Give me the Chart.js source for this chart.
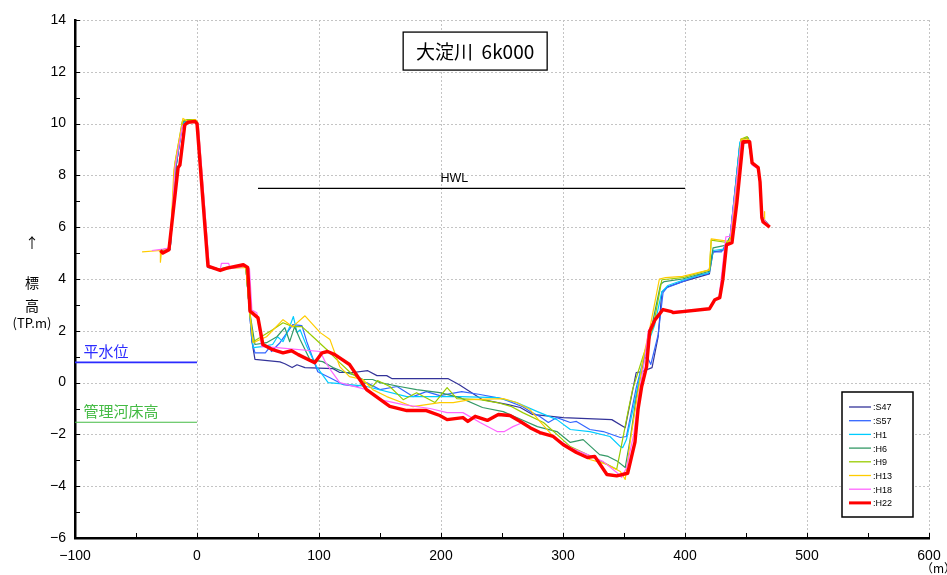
<!DOCTYPE html>
<html>
<head>
<meta charset="utf-8">
<script src="https://cdn.jsdelivr.net/npm/chart.js@4/dist/chart.umd.min.js"></script>
<style>
  html, body { margin: 0; padding: 0; background: #fff; }
  #wrap { width: 947px; height: 575px; }
</style>
</head>
<body>
<div id="wrap"><canvas id="chart" width="947" height="575"></canvas></div>
<script>
// cross section survey lines, [distance m, height TP.m]
var names = [":S47", ":S57", ":H1", ":H6", ":H9", ":H13", ":H18", ":H22"];
var colors = ["#333399", "#3366ff", "#00ccff", "#339966", "#99cc00", "#ffcc00", "#ff66ff", "#ff0000"];

var s47 = [[-30,5.1],[-22,5.15],[-20,6.5],[-17,8.4],[-12,10.0],[-8,10.1],[-2,10.1],[0,10.05],[9,4.5],[18,4.35],[25,4.4],[40,4.5],[43,2.8],[45,1.6],[47.5,0.9],[68,0.8],[72,0.73],[78,0.58],[82,0.69],[88.5,0.58],[111.5,0.54],[117,0.39],[128,0.39],[140,0.46],[147.5,0.27],[155.5,0.27],[160,0.15],[206,0.15],[215,-0.08],[234,-0.66],[255,-0.85],[265,-0.96],[275,-1.23],[300,-1.35],[340,-1.43],[351,-1.74],[360,0.39],[364.5,0.42],[373,0.58],[378,1.77],[381,3.5],[386,3.7],[398,3.9],[420,4.2],[423,5.05],[431,5.1],[437,5.6],[445,9.2],[453,9.3],[455,8.5],[460,8.3],[461.5,7.7],[463,6.4],[469,6.05]];
var s57 = [[-30,5.1],[-22,5.15],[-17,8.4],[-12,10.0],[-8,10.1],[-2,10.1],[0,10.05],[9,4.45],[18,4.35],[25,4.42],[40,4.5],[43,2.8],[45,1.6],[47.5,1.15],[56,1.15],[60,1.39],[61,1.2],[68,1.54],[78.5,2.24],[86,2.2],[90,1.58],[99,0.42],[109,0.19],[120,-0.08],[131,-0.15],[139,0],[150,-0.27],[164,-0.15],[177,-0.54],[188,-0.35],[199,-0.5],[217,-0.35],[232,-0.46],[250,-0.62],[267,-0.93],[273,-1.12],[281,-1.31],[288,-1.54],[295,-1.35],[306,-1.54],[311,-1.5],[322,-1.81],[333,-1.89],[347,-2.12],[352,-2.08],[360,-0.2],[366,0.9],[369,1.0],[372,0.7],[378,1.85],[382,3.47],[385,3.66],[398,3.9],[412,4.16],[419,4.2],[423,5.05],[430,5.05],[437,5.63],[445,9.25],[453,9.3],[455,8.5],[460,8.3],[461.5,7.7],[463,6.4],[469,6.05]];
var h1 = [[-30,5.1],[-22,5.15],[-17,8.4],[-12,10.0],[-8,10.1],[-2,10.1],[0,10.05],[9,4.45],[18,4.35],[25,4.42],[40,4.5],[43,2.8],[46,1.35],[53,1.39],[62,1.47],[66,1.77],[70.5,1.58],[76,2.16],[79,2.55],[82,1.93],[84.5,2.04],[90,1.39],[98,0.62],[107.5,0],[117,-0.04],[133.5,-0.12],[139,-0.15],[172,-0.54],[215.5,-0.54],[246,-0.58],[262,-0.77],[279,-1.12],[295,-1.43],[306,-1.81],[322,-1.89],[338.5,-2.08],[347,-2.47],[349,-2.51],[352,-2.2],[358,-0.9],[364,0.5],[368,1.3],[375,2.2],[381,3.5],[386,3.75],[398,3.95],[420,4.25],[423,5.1],[432,5.15],[437,5.6],[445,9.3],[453,9.35],[455,8.5],[460,8.3],[461.5,7.7],[463,6.4],[469,6.05]];
var h6 = [[-30,5.1],[-22,5.2],[-17,8.45],[-12,10.05],[-8,10.15],[-2,10.1],[0,10.05],[9,4.5],[18,4.38],[25,4.45],[40,4.5],[43,2.8],[47.5,1.47],[57,1.54],[65.5,1.77],[72,2.12],[76,1.58],[80,2.16],[84.5,1.66],[92.5,0.89],[103,0.81],[111.5,0.58],[120,0.42],[128,0.31],[136,0.12],[144,0.12],[150,0],[166,-0.15],[180,-0.27],[199,-0.39],[215.5,-0.58],[234,-0.96],[251,-1.12],[262,-1.35],[279,-1.7],[295,-1.89],[306,-2.31],[316.5,-2.2],[330,-2.78],[337,-2.85],[345,-3.05],[351,-3.28],[355,-2.2],[360,-0.6],[366,0.8],[372,2.0],[380,3.8],[383,3.9],[398,4.0],[420,4.3],[423,5.2],[433,5.3],[437,5.6],[446,9.4],[452,9.45],[455,8.5],[460,8.3],[461.5,7.7],[463,6.4],[469,6.05]];
var h9 = [[-30,5.1],[-22,5.2],[-18,8.5],[-12,10.1],[-8,10.15],[-2,10.15],[0,10.05],[9,4.5],[18,4.38],[25,4.45],[40,4.5],[43,2.8],[46,1.58],[62,2.04],[70.5,2.31],[78.5,2.16],[86,2.16],[95,1.77],[106.5,1.27],[117,0.77],[125,0.42],[136,0.04],[144,-0.15],[148,0.08],[158,-0.15],[169,-0.66],[180,-0.39],[195,-0.77],[205,-0.19],[213,-0.62],[232,-0.66],[246,-0.77],[258,-0.93],[267,-1.16],[284,-1.54],[295,-2.0],[306,-2.47],[320,-2.78],[333,-3.08],[344,-3.35],[348,-2.4],[353,-1.2],[357,-0.27],[365.5,1.0],[374,2.16],[381,3.97],[387,4.0],[398,4.05],[420,4.35],[421.5,5.5],[436,5.4],[438,5.7],[446,9.4],[451,9.5],[455,8.5],[460,8.3],[461.5,7.7],[463,6.4],[469,6.05]];
var h13 = [[-45,5.05],[-30,5.1],[-30,4.65],[-29,5.1],[-22,5.2],[-19,8.2],[-11.5,10.2],[-8,10.1],[-1,10.15],[1,10.0],[10,4.45],[18,4.35],[25,4.4],[40,4.45],[43,2.8],[46,1.54],[57,1.77],[70.5,2.43],[78.5,2.16],[88.5,2.58],[101,1.93],[109,1.66],[117,0.62],[125,0.23],[136,0.12],[144,-0.27],[155.5,-0.54],[177,-0.93],[199,-0.77],[210,-0.77],[224,-0.66],[251,-0.62],[262,-0.77],[273,-1.04],[281,-1.5],[292,-2.08],[306,-2.58],[322,-2.97],[336,-3.16],[347,-3.43],[351,-3.74],[355,-2.3],[360,-0.8],[366,1.0],[372,2.3],[379,4.0],[384,4.05],[398,4.1],[420,4.35],[421.5,5.55],[436,5.45],[438,5.7],[446,9.4],[452,9.4],[455,8.5],[460,8.3],[461.5,7.7],[463,6.4],[465,6.3],[465,6.6],[465.5,6.2],[469,6.05]];
var h18 = [[-37,5.1],[-28,5.15],[-22,5.2],[-18,8.3],[-12,9.9],[-8,10.05],[-2,10.1],[1,10.0],[10,4.5],[19,4.35],[20,4.6],[26,4.6],[27,4.4],[40,4.5],[43,4.4],[45,2.8],[49,2.7],[53,1.39],[65.5,1.35],[101,1.2],[105,0.81],[110.5,0.42],[117,0],[139,-0.27],[150,-0.66],[169,-0.85],[191,-1.0],[205,-1.16],[218,-1.16],[232,-1.54],[246,-1.89],[252,-1.89],[259,-1.7],[267,-1.54],[279,-1.89],[292,-2.08],[306,-2.51],[320,-2.78],[333,-3.05],[344,-3.47],[348,-3.66],[352,-3.3],[358,-2.0],[362,-0.5],[367,0.9],[370,2.0],[376,2.5],[382,2.8],[390,2.75],[420,2.85],[424.5,3.2],[428,3.3],[433.5,5.63],[437,5.65],[446,9.3],[452,9.3],[455,8.4],[460,8.25],[461.5,7.7],[463,6.4],[469,6.05]];
var h22 = [[-30,5.1],[-28,5.0],[-23,5.13],[-15.5,8.3],[-14,8.4],[-10,9.95],[-7.5,10.05],[-1.5,10.08],[0,10.0],[9,4.5],[19,4.33],[24.5,4.42],[38,4.55],[41.5,4.45],[43.5,2.75],[45,2.7],[50,2.5],[54,1.47],[62,1.27],[70.5,1.15],[77.5,1.23],[83,1.08],[96.5,0.77],[102.5,1.15],[107,1.2],[113,1.08],[125,0.7],[139,-0.27],[158,-0.92],[172,-1.08],[188,-1.08],[199,-1.27],[205,-1.43],[218,-1.35],[222,-1.5],[228,-1.3],[238,-1.46],[247,-1.23],[256.5,-1.27],[265,-1.5],[273,-1.74],[281,-1.93],[292,-2.08],[300,-2.39],[311,-2.7],[320,-2.89],[326,-2.85],[336,-3.55],[344,-3.6],[353,-3.5],[359,-2.3],[361.5,-1.04],[364.5,-0.15],[368.5,0.62],[371,1.97],[375.5,2.43],[382,2.82],[389,2.74],[390.5,2.7],[420,2.85],[424.5,3.2],[428.5,3.28],[431,3.97],[434,5.32],[438.5,5.4],[442.5,6.94],[447.5,9.3],[453,9.3],[455,8.48],[460,8.3],[461.5,7.75],[463,6.36],[464,6.2],[469.5,6.0]];
var series = [s47, s57, h1, h6, h9, h13, h18, h22];

// reference levels
var hwl = [[50,7.5],[400,7.5]];
var heisui = [[-100,0.78],[0,0.78]];
var kasho = [[-100,-1.53],[0,-1.53]];

var xTicks = [-100, 0, 100, 200, 300, 400, 500, 600];
var yTicks = [-6, -4, -2, 0, 2, 4, 6, 8, 10, 12, 14];

var datasets = [];
for (var i = 0; i < series.length; i++) {
  var last = i == series.length - 1;
  datasets.push({
    label: names[i],
    data: series[i],
    borderColor: colors[i],
    borderWidth: last ? 3.4 : 1.2,
    order: series.length - i
  });
}
datasets.push({ label: "HWL", data: hwl, borderColor: "#000", borderWidth: 1.2, order: 20 });
datasets.push({ label: "平水位", data: heisui, borderColor: "#2b2bff", borderWidth: 1.6, order: 20 });
datasets.push({ label: "管理河床高", data: kasho, borderColor: "#44bb44", borderWidth: 1.1, order: 20 });

var fmt = function(v) { return v < 0 ? "\u2212" + (-v) : "" + v; };

var decor = {
  id: "decor",
  beforeDatasetsDraw: function(chart) {
    var ctx = chart.ctx, xs = chart.scales.x, ys = chart.scales.y, a = chart.chartArea;
    ctx.save();
    ctx.strokeStyle = "#c4c4c4";
    ctx.lineWidth = 1;
    ctx.setLineDash([2, 2]);
    for (var v = -4; v <= 14; v += 2) {
      var py = Math.round(ys.getPixelForValue(v)) + 0.5;
      ctx.beginPath(); ctx.moveTo(a.left, py); ctx.lineTo(a.right, py); ctx.stroke();
    }
    for (var m = 0; m <= 600; m += 100) {
      var px = Math.round(xs.getPixelForValue(m)) + 0.5;
      ctx.beginPath(); ctx.moveTo(px, a.top); ctx.lineTo(px, a.bottom); ctx.stroke();
    }
    ctx.restore();
  },
  afterDraw: function(chart) {
    var ctx = chart.ctx, xs = chart.scales.x, ys = chart.scales.y, a = chart.chartArea;
    ctx.save();
    // inward tick marks
    ctx.strokeStyle = "#000";
    ctx.lineWidth = 1;
    for (var v = -6; v <= 14; v++) {
      var py = Math.round(ys.getPixelForValue(v)) + 0.5;
      ctx.beginPath(); ctx.moveTo(a.left, py); ctx.lineTo(a.left + 5, py); ctx.stroke();
    }
    for (var m = -100; m <= 600; m += 50) {
      var px = Math.round(xs.getPixelForValue(m)) + 0.5;
      ctx.beginPath(); ctx.moveTo(px, a.bottom); ctx.lineTo(px, a.bottom - 5); ctx.stroke();
    }

    // title box
    var tx = xs.getPixelForValue(228), ty = ys.getPixelForValue(12.8);
    ctx.fillStyle = "#fff";
    ctx.fillRect(tx - 72, ty - 19, 144, 38);
    ctx.lineWidth = 1.3;
    ctx.strokeRect(tx - 72, ty - 19, 144, 38);
    ctx.fillStyle = "#000";
    ctx.font = "19px 'Noto Sans CJK JP', sans-serif";
    ctx.textAlign = "center";
    ctx.textBaseline = "middle";
    ctx.fillText("大淀川  6k000", tx, ty + 1);

    // HWL label
    ctx.font = "12.5px 'Liberation Sans', Arial, sans-serif";
    ctx.textBaseline = "alphabetic";
    ctx.fillText("HWL", xs.getPixelForValue(211), ys.getPixelForValue(7.5) - 6);

    // reference labels
    ctx.textAlign = "left";
    ctx.font = "15px 'Noto Sans CJK JP', sans-serif";
    ctx.fillStyle = "#2b2bff";
    ctx.fillText("平水位", xs.getPixelForValue(-93), ys.getPixelForValue(0.78) - 5);
    ctx.fillStyle = "#44bb44";
    ctx.fillText("管理河床高", xs.getPixelForValue(-93), ys.getPixelForValue(-1.53) - 5);

    // axis titles
    ctx.fillStyle = "#000";
    ctx.textAlign = "center";
    ctx.font = "14px 'Noto Sans CJK JP', sans-serif";
    ctx.fillText("↑", 32, 248);
    ctx.fillText("標", 32, 288);
    ctx.fillText("高", 32, 311);
    ctx.font = "13px 'Noto Sans CJK JP', sans-serif";
    ctx.fillText("(TP.m)", 32, 328);
    ctx.textAlign = "left";
    ctx.font = "12px 'Noto Sans CJK JP', sans-serif";
    ctx.fillText("（m）", 921, 573);

    // legend
    var lx = 842, ly = 392;
    ctx.fillStyle = "#fff";
    ctx.fillRect(lx, ly, 71, 125);
    ctx.lineWidth = 1.5;
    ctx.strokeStyle = "#000";
    ctx.strokeRect(lx, ly, 71, 125);
    ctx.font = "9px 'Liberation Sans', Arial, sans-serif";
    ctx.textBaseline = "middle";
    for (var i = 0; i < names.length; i++) {
      var ds = chart.data.datasets[i];
      var ry = ly + 15 + i * 13.7;
      ctx.strokeStyle = ds.borderColor;
      ctx.lineWidth = ds.borderWidth > 2 ? 3 : 1.3;
      ctx.beginPath(); ctx.moveTo(lx + 7, ry); ctx.lineTo(lx + 29, ry); ctx.stroke();
      ctx.fillStyle = "#000";
      ctx.fillText(names[i], lx + 31, ry + 1);
    }
    ctx.restore();
  }
};

new Chart(document.getElementById("chart"), {
  type: "line",
  data: { datasets: datasets },
  options: {
    responsive: false,
    animation: false,
    layout: { autoPadding: false, padding: { left: 0, right: 18, top: 20, bottom: 0 } },
    elements: {
      point: { radius: 0 },
      line: { tension: 0, borderJoinStyle: "round", fill: false }
    },
    plugins: { legend: { display: false }, tooltip: { enabled: false } },
    scales: {
      x: {
        type: "linear",
        min: -100, max: 600,
        afterFit: function(s) { s.height = 37; },
        afterBuildTicks: function(s) { s.ticks = xTicks.map(function(v) { return { value: v }; }); },
        grid: { display: false },
        border: { color: "#000", width: 2.5 },
        ticks: { color: "#000", padding: 2, font: { size: 14, family: "'Liberation Sans', Arial, sans-serif" }, callback: fmt, maxRotation: 0 }
      },
      y: {
        type: "linear",
        min: -6, max: 14,
        afterFit: function(s) { s.width = 75; },
        afterBuildTicks: function(s) { s.ticks = yTicks.map(function(v) { return { value: v }; }); },
        grid: { display: false },
        border: { color: "#000", width: 2.5 },
        ticks: { color: "#000", padding: 1, font: { size: 14, family: "'Liberation Sans', Arial, sans-serif" }, callback: fmt }
      }
    }
  },
  plugins: [decor]
});
</script>
</body>
</html>
